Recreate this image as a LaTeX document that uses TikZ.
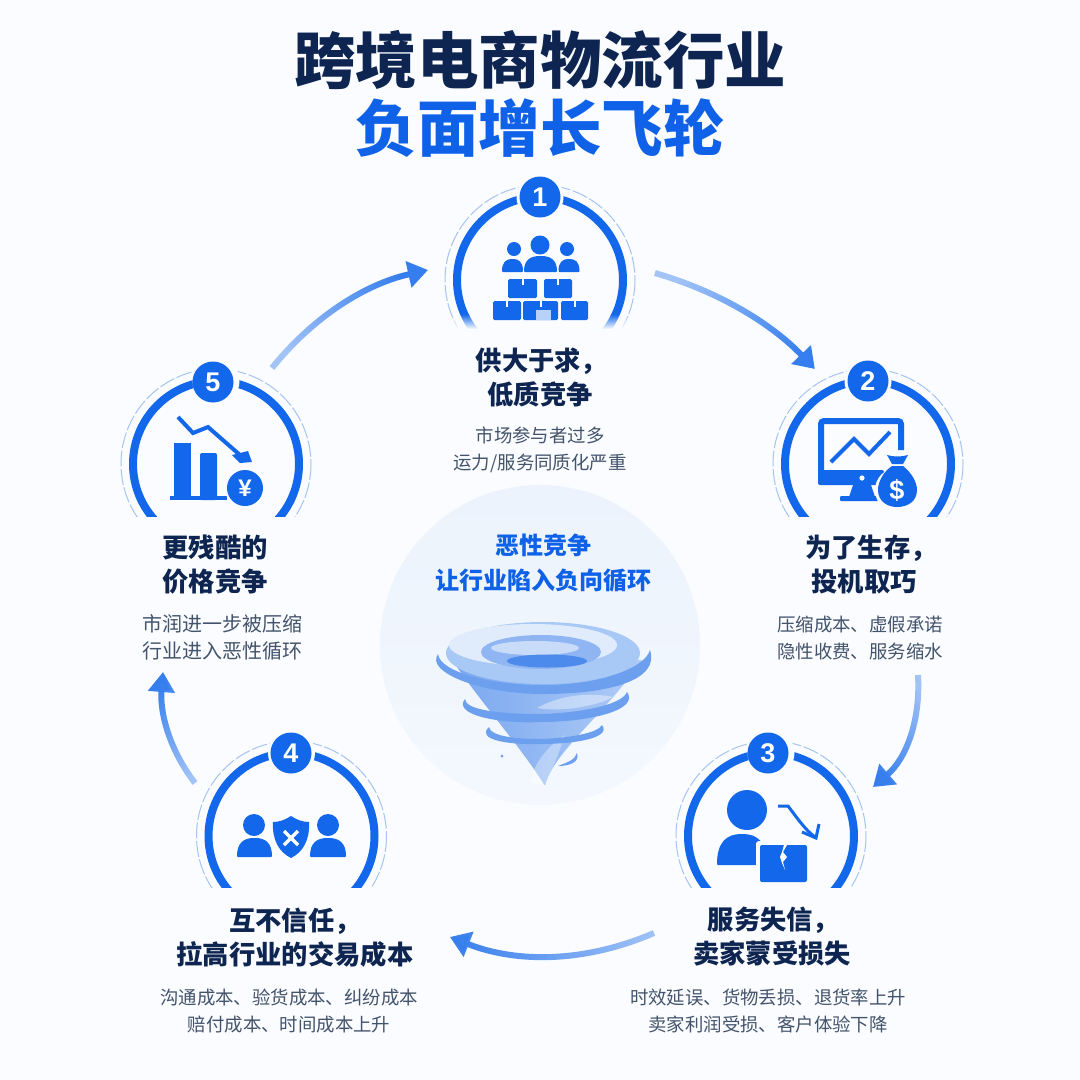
\documentclass[tikz,border=0pt]{standalone}
\usepackage{fontspec}
\setmainfont{Noto Sans CJK SC}
\newfontfamily\numfont{Liberation Sans}
\usetikzlibrary{arrows.meta,fadings,shapes.geometric}
\definecolor{bl}{HTML}{1267EA}
\definecolor{navy}{HTML}{0D2550}
\definecolor{ttlblue}{HTML}{0F62E8}
\definecolor{bgc}{HTML}{FAFCFF}
\definecolor{dashc}{HTML}{A6C4F2}
\definecolor{subc}{HTML}{43536B}
\definecolor{sw}{HTML}{6CA0EE}
\definecolor{discA}{HTML}{ECF3FC}
\definecolor{discB}{HTML}{F4F8FE}
\definecolor{torA}{HTML}{78A6EF}
\definecolor{torB}{HTML}{B0CCF7}
\definecolor{torC}{HTML}{A8C8F5}
\definecolor{torD}{HTML}{E0EBFC}
\definecolor{torE}{HTML}{8FB6F2}
\definecolor{torF}{HTML}{C8DCF9}
\definecolor{torG}{HTML}{4C8BEC}
\tikzfading[name=flowfade,left color=transparent!55,right color=transparent!0]
\tikzset{
  badge/.style={circle,fill=bl,text=white,minimum size=41pt,inner sep=0pt,font=\numfont\bfseries\fontsize{27}{27}\selectfont},
  ttl/.style={font=\bfseries\fontsize{61.5}{61.5}\selectfont,inner sep=0pt},
  head/.style={font=\bfseries\fontsize{26.3}{34}\selectfont,text=navy,align=center,inner sep=0pt},
  subt/.style={font=\fontsize{18.4}{27}\selectfont,text=subc,align=center,inner sep=0pt},
  flow/.style={line width=6pt,color=bl!85!white,-{Triangle[length=20pt,width=26pt]},path fading=flowfade},
  coin/.style={circle,fill=bl,text=white,inner sep=0pt,font=\numfont\bfseries},
}
\newcommand{\ringset}[4]{% cx, cy, cut, badge number
  \begin{scope}
    \clip (#1-110,#2-110) rectangle (#1+110,#3);
    \draw[dashc,line width=1pt,dash pattern=on 16pt off 2.5pt] (#1,#2) circle[radius=95];
    \draw[bl,line width=8pt] (#1,#2) circle[radius=83];
  \end{scope}
  \fill[bgc] (#1,#2-83) circle[radius=23.5];
}
\newcommand{\bustshape}[4]{% cx, base y, half width, height
  \fill[bl,rounded corners=1pt] (#1-#3,#2) .. controls (#1-#3,#2-#4*.75) and (#1-#3*.6,#2-#4) .. (#1,#2-#4)
     .. controls (#1+#3*.6,#2-#4) and (#1+#3,#2-#4*.75) .. (#1+#3,#2) -- cycle;
}
\newcommand{\boxshape}[4]{% x0,y0,x1,y1
  \fill[bl,rounded corners=1.5pt] (#1,#2) rectangle (#3,#4);
  \fill[white] ({(#1+#3)/2-1},#2) rectangle ({(#1+#3)/2+1},#2+6);
}
\begin{document}
\begin{tikzpicture}[x=1pt,y=-1pt]
\useasboundingbox (0,0) rectangle (1080,1080);
\fill[bgc] (0,0) rectangle (1080,1080);
% centre disc
\shade[top color=discA,bottom color=discB] (540,645) circle[radius=160];
% title
\node[ttl,text=navy] (t1) at (540,60) {跨境电商物流行业};
\node[ttl,text=ttlblue] (t2) at (540,128) {负面增长飞轮};
% rings
\ringset{540}{280}{328}{1}
\ringset{868}{464}{516}{2}
\ringset{771}{836}{887}{3}
\ringset{291.5}{836}{887}{4}
\ringset{216}{464}{516}{5}
\fill[bgc,path fading=north] (440,314) rectangle (640,329);
\node[badge] (b1) at (540,197) {1};
\node[badge] (b2) at (868,381) {2};
\node[badge] (b3) at (768,753) {3};
\node[badge] (b4) at (291,753) {4};
\node[badge] (b5) at (213,382) {5};
% arrows
\coordinate (a1s) at (655,273); \coordinate (a1e) at (815,369);
\coordinate (a2s) at (918,675); \coordinate (a2e) at (873,787);
\coordinate (a3s) at (654,933); \coordinate (a3e) at (450,937);
\coordinate (a4s) at (195,783); \coordinate (a4e) at (163,672);
\coordinate (a5s) at (272,368); \coordinate (a5e) at (428,270);
\draw[flow,fading angle=-30] (a1s) .. controls (717.7,291) and (771,323) .. (a1e);
\draw[flow,fading angle=-112] (a2s) .. controls (920.7,721.7) and (905.7,759) .. (a2e);
\draw[flow,fading angle=180] (a3s) .. controls (586,962.3) and (518,963.7) .. (a3e);
\draw[flow,fading angle=107] (a4s) .. controls (170.3,751) and (159.7,714) .. (a4e);
\draw[flow,fading angle=32] (a5s) .. controls (313.3,316.7) and (365.3,284) .. (a5e);
% icon 1
\fill[bl] (540,245) circle[radius=9.5];
\fill[bl] (514,249) circle[radius=7];
\fill[bl] (567,249) circle[radius=7];
\bustshape{512.5}{272}{10.5}{13}
\bustshape{569}{272}{10.5}{13}
\bustshape{540.5}{272}{16.5}{16}
\boxshape{508}{279}{537}{298}
\boxshape{544}{279}{572}{298}
\boxshape{493}{301}{521}{320}
\boxshape{523}{301}{558}{320}
\boxshape{561}{301}{588}{320}
\fill[white,opacity=.7] (536,310) rectangle (551,320);
% icon 2
\draw[bl,line width=6pt,rounded corners=3pt] (821,475) -- (821,421) -- (901,421) -- (901,450);
\fill[bl,rounded corners=2pt] (818,470) rectangle (884,485);
\fill[white] (862,478) circle[radius=2.6];
\fill[bl] (853,485) -- (871,485) -- (875,497) -- (849,497) -- cycle;
\fill[bl,rounded corners=1pt] (840,496) rectangle (878,501);
\draw[bl,line width=4pt,line join=miter] (831,462) -- (854,439) -- (869,454) -- (890,432);
\fill[bgc] (897,490) circle[radius=22];
\fill[bgc] (897,459) ellipse[x radius=14,y radius=7];
\fill[bl] (887,455) .. controls (893,457) and (902,457) .. (908,455) -- (903,464) -- (892,464) -- cycle;
\fill[bl] (892,466) .. controls (883,472) and (878,482) .. (878,490) .. controls (878,501) and (887,507) .. (897,507)
   .. controls (908,507) and (917,501) .. (917,490) .. controls (917,482) and (911,472) .. (903,466) -- cycle;
\node[inner sep=0pt,text=white,font=\numfont\bfseries\fontsize{27}{27}\selectfont] (dollar) at (897,490) {\$};
% icon 3
\fill[bl] (747,810) circle[radius=20];
\bustshape{742}{865}{25}{31}
\fill[bgc,rounded corners=3pt] (756,841) rectangle (811,886);
\fill[bl,rounded corners=2pt] (760,845) rectangle (807,882);
\fill[white] (784,845) -- (787,845) -- (783,852) -- (787,857) -- (783,862) -- (785,870) -- (782,863) -- (780,857) -- (782,852) -- cycle;
\draw[bl,line width=3pt] (778,806) -- (788,806) .. controls (795,815) and (805,830) .. (815,837);
\draw[bl,line width=3pt] (802,832) -- (816,838) -- (819,824);
% icon 4
\fill[bl] (254,825) circle[radius=11];
\fill[bl] (328,825) circle[radius=11];
\bustshape{254.5}{857}{17.5}{19}
\bustshape{328}{857}{18}{19}
\fill[bl] (291,816) .. controls (297,820) and (303,822) .. (309,822) .. controls (310,840) and (303,852) .. (291,858)
   .. controls (279,852) and (272,840) .. (273,822) .. controls (279,822) and (285,820) .. (291,816) -- cycle;
\draw[white,line width=3.5pt] (284,831) -- (298,845) (298,831) -- (284,845);
% icon 5
\fill[bl] (174,443) rectangle (191,497);
\fill[bl,rounded corners=2pt] (200,453) rectangle (217,500);
\fill[bl] (170,496) rectangle (227,500);
\draw[bl,line width=4pt] (178,417) -- (193,433) -- (208,427) -- (240,455);
\fill[bl] (232,455) -- (248,451) -- (252,462) -- (240,463) -- cycle;
\fill[bgc] (245,488) circle[radius=20];
\node[coin,minimum size=36pt,font=\numfont\bfseries\fontsize{24}{24}\selectfont] (yen) at (245,488) {¥};
% tornado
\shade[left color=torA,right color=torB,rounded corners=1pt] (446,650) .. controls (470,690) and (520,745) .. (545,786)
   .. controls (555,750) and (600,720) .. (642,660) -- cycle;
\fill[torC] (543,653) ellipse[x radius=97,y radius=31];
\fill[torD] (533,645) ellipse[x radius=84,y radius=21];
\fill[torE] (541,652) ellipse[x radius=60,y radius=17];
\fill[torF] (535,648) ellipse[x radius=44,y radius=7];
\fill[torG] (547,661) ellipse[x radius=40,y radius=6.5];
\fill[sw] (438,654) .. controls (425,672) and (480,694) .. (543,694) .. controls (610,694) and (660,680) .. (650,650)
   .. controls (645,668) and (600,685) .. (543,685) .. controls (490,685) and (440,672) .. cycle;
\fill[white,opacity=.4] (537,708) .. controls (560,695) and (590,692) .. (613,697) .. controls (595,707) and (560,712) .. cycle;
\fill[white,opacity=.35] (530,782) .. controls (535,760) and (550,745) .. (565,735) .. controls (558,755) and (552,770) .. (545,786) -- cycle;
\fill[sw] (465,699) .. controls (452,715) and (500,724) .. (540,722) .. controls (590,722) and (640,710) .. (627,692)
   .. controls (622,705) and (580,713) .. (540,714) .. controls (500,714) and (465,710) .. cycle;
\fill[sw] (489,727) .. controls (475,740) and (510,745) .. (540,744) .. controls (575,744) and (612,738) .. (602,725)
   .. controls (598,733) and (570,738) .. (540,739) .. controls (515,739) and (490,736) .. cycle;
\fill[sw] (558,766) .. controls (570,766) and (580,762) .. (577,753) .. controls (575,760) and (568,762) .. cycle;
\fill[sw] (502,756) circle[radius=1.5];
% centre text
\node[inner sep=0pt,align=center,text=ttlblue,font=\bfseries\fontsize{24}{35}\selectfont] (ctext) at (543,563) {恶性竞争\\让行业陷入负向循环};
% item texts
\node[head] (h1) at (540,377.5) {\hspace*{3pt}供大于求，\\低质竞争};
\node[subt] (s1) at (540,450) {市场参与者过多\\运力/服务同质化严重};
\node[head] (h2) at (864,565) {\hspace*{14pt}为了生存，\\投机取巧};
\node[subt] (s2) at (860,637.5) {压缩成本、虚假承诺\\隐性收费、服务缩水};
\node[head] (h3) at (772,936.5) {\hspace*{3pt}服务失信，\\卖家蒙受损失};
\node[subt] (s3) at (768,1010.5) {时效延误、货物丢损、退货率上升\\卖家利润受损、客户体验下降};
\node[head] (h4) at (295,938) {互不信任，\\拉高行业的交易成本};
\node[subt] (s4) at (289,1010.5) {沟通成本、验货成本、纠纷成本\\赔付成本、时间成本上升};
\node[head] (h5) at (215,565) {更残酷的\\价格竞争};
\node[subt,font=\fontsize{20}{27}\selectfont] (s5) at (222,637.5) {市润进一步被压缩\\行业进入恶性循环};
\end{tikzpicture}
\end{document}
